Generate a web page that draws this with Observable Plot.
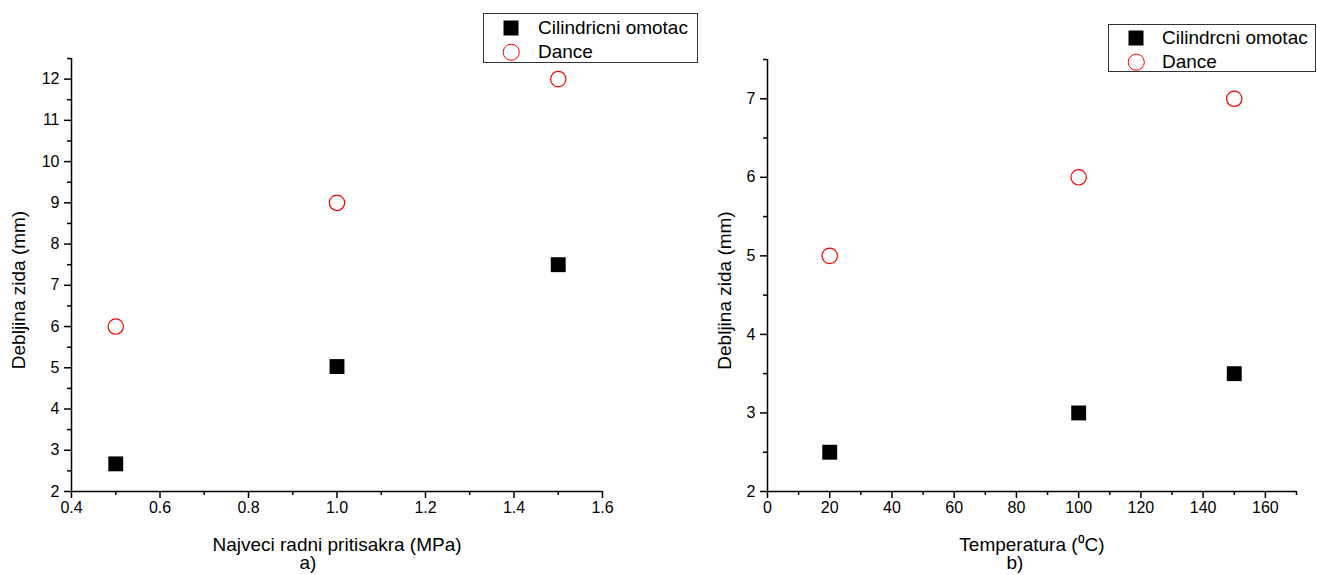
<!DOCTYPE html>
<html>
<head>
<meta charset="utf-8">
<script src="https://cdn.jsdelivr.net/npm/d3@7"></script>
<script src="https://cdn.jsdelivr.net/npm/@observablehq/plot@0.6"></script>
<style>
  html, body { margin: 0; padding: 0; background: #fff; }
  #wrap { position: relative; width: 1317px; height: 575px; overflow: hidden;
          font-family: "Liberation Sans", Arial, sans-serif; color: #000; }
  .panel { position: absolute; top: 0; }
  .legend { position: absolute; border: 1px solid #333; background: #fff; box-sizing: border-box; }
  .row { position: absolute; left: 0; right: 0; height: 0; }
  .sym { position: absolute; box-sizing: border-box; transform: translate(-50%, -50%); }
  .lab { position: absolute; font-size: 19px; line-height: 19px; white-space: nowrap; transform: translateY(-52%); }
  .cap { position: absolute; font-size: 19px; line-height: 19px; transform: translateX(-50%); }
</style>
</head>
<body>
<div id="wrap"></div>
<script>
// ---------- data ----------
// panel a)
const seriesA = ["Cilindricni omotac", "Dance"];
const pressure = [0.5, 1.0, 1.5];
const cilindricniA = [2.67, 5.03, 7.5];
const danceA = [6, 9, 12];
const xTicksA = [0.4, 0.6, 0.8, 1.0, 1.2, 1.4, 1.6];
const xMinorA = [0.5, 0.7, 0.9, 1.1, 1.3, 1.5];
const yTicksA = [2, 3, 4, 5, 6, 7, 8, 9, 10, 11, 12];
const yMinorA = [2.5, 3.5, 4.5, 5.5, 6.5, 7.5, 8.5, 9.5, 10.5, 11.5, 12.5];
// panel b)
const seriesB = ["Cilindrcni omotac", "Dance"];
const temperature = [20, 100, 150];
const cilindricniB = [2.5, 3, 3.5];
const danceB = [5, 6, 7];
const xTicksB = [0, 20, 40, 60, 80, 100, 120, 140, 160];
const xMinorB = [10, 30, 50, 70, 90, 110, 130, 150, 170];
const yTicksB = [2, 3, 4, 5, 6, 7];
const yMinorB = [2.5, 3.5, 4.5, 5.5, 6.5, 7.5];

const seriesColors = ["#000000", "#ff0000"];
const font = '"Liberation Sans", Arial, sans-serif';

function panel(o) {
  const rowsC = o.xs.map((x, i) => ({x, y: o.cil[i]}));
  const rowsD = o.xs.map((x, i) => ({x, y: o.dance[i]}));
  const svg = Plot.plot({
    width: o.width, height: 575,
    marginLeft: o.ml, marginRight: o.mr, marginTop: o.mt, marginBottom: 84,
    style: {fontFamily: font, fontSize: "16px", color: "#000", background: "transparent", overflow: "visible"},
    x: {domain: o.xDomain},
    y: {domain: o.yDomain},
    marks: [
      Plot.axisX(o.xTicks, {tickSize: 7, tickPadding: 3, strokeWidth: 1.5, fontSize: 16,
        tickFormat: o.xFmt, label: o.xLabel, labelAnchor: "center", labelArrow: "none", labelOffset: 59}),
      Plot.axisX(o.xMinor, {tickSize: 4, strokeWidth: 1.5, tickFormat: () => "", label: null}),
      Plot.axisY(o.yTicks, {tickSize: 7, tickPadding: 5, strokeWidth: 1.5, fontSize: 16,
        tickFormat: d3.format("d"), label: "Debljina zida (mm)", labelAnchor: "center", labelArrow: "none", labelOffset: o.ylo}),
      Plot.axisY(o.yMinor, {tickSize: 4, strokeWidth: 1.5, tickFormat: () => "", label: null}),
      Plot.ruleX([o.xDomain[0]], {strokeWidth: 1.5}),
      Plot.ruleY([o.yDomain[0]], {strokeWidth: 1.5}),
      Plot.dot(rowsC, {x: "x", y: "y", symbol: "square", fill: seriesColors[0], r: 8.4}),
      Plot.dot(rowsD, {x: "x", y: "y", symbol: "circle", fill: "none", stroke: seriesColors[1], strokeWidth: 1.2, r: 7.7})
    ]
  });
  const yl = svg.querySelector('g[aria-label="y-axis label"]');
  if (yl) {
    yl.setAttribute("font-size", "19px");
    const tr = yl.getAttribute("transform") || "";
    yl.setAttribute("transform", tr + " translate(0,15)");
  }
  const xl = svg.querySelector('g[aria-label="x-axis label"]');
  if (xl) { xl.setAttribute("font-size", "19px"); }
  const div = document.createElement("div");
  div.className = "panel";
  div.style.left = o.left + "px";
  div.appendChild(svg);
  return div;
}

function legend(names, box) {
  const lg = document.createElement("div");
  lg.className = "legend";
  Object.assign(lg.style, {left: box.left + "px", top: box.top + "px", width: box.w + "px", height: box.h + "px"});
  names.forEach((name, i) => {
    const row = document.createElement("div");
    row.className = "row";
    row.style.top = box.rows[i] + "px";
    const s = document.createElement("div");
    s.className = "sym";
    s.style.left = box.sx + "px";
    if (i === 0) {
      Object.assign(s.style, {width: "15px", height: "15px", background: seriesColors[0]});
    } else {
      Object.assign(s.style, {width: "16.5px", height: "16.5px", border: "1.2px solid " + seriesColors[1], borderRadius: "50%"});
    }
    const t = document.createElement("div");
    t.className = "lab";
    t.style.left = box.tx + "px";
    t.textContent = name;
    row.appendChild(s); row.appendChild(t);
    lg.appendChild(row);
  });
  return lg;
}

function caption(text, cx, top) {
  const c = document.createElement("div");
  c.className = "cap";
  c.style.left = cx + "px";
  c.style.top = top + "px";
  c.textContent = text;
  return c;
}

const wrap = document.getElementById("wrap");
wrap.appendChild(panel({
  left: 0, width: 660, ml: 71, mr: 58, mt: 58, ylo: 60,
  xDomain: [0.4, 1.6], yDomain: [2, 12.5],
  xTicks: xTicksA, xMinor: xMinorA, yTicks: yTicksA, yMinor: yMinorA,
  xFmt: d3.format(".1f"), xLabel: "Najveci radni pritisakra (MPa)",
  xs: pressure, cil: cilindricniA, dance: danceA
}));
wrap.appendChild(panel({
  left: 660, width: 657, ml: 107, mr: 21, mt: 59, ylo: 50,
  xDomain: [0, 170], yDomain: [2, 7.5],
  xTicks: xTicksB, xMinor: xMinorB, yTicks: yTicksB, yMinor: yMinorB,
  xFmt: d3.format("d"), xLabel: "Temperatura (\u2070C)",
  xs: temperature, cil: cilindricniB, dance: danceB
}));
wrap.appendChild(legend(seriesA, {left: 483, top: 13, w: 215, h: 50, rows: [14, 38], sx: 27, tx: 54}));
wrap.appendChild(legend(seriesB, {left: 1108, top: 24, w: 208, h: 48, rows: [13, 37], sx: 27, tx: 53}));
wrap.appendChild(caption("a)", 308, 553));
wrap.appendChild(caption("b)", 1015, 553));
</script>
</body>
</html>
